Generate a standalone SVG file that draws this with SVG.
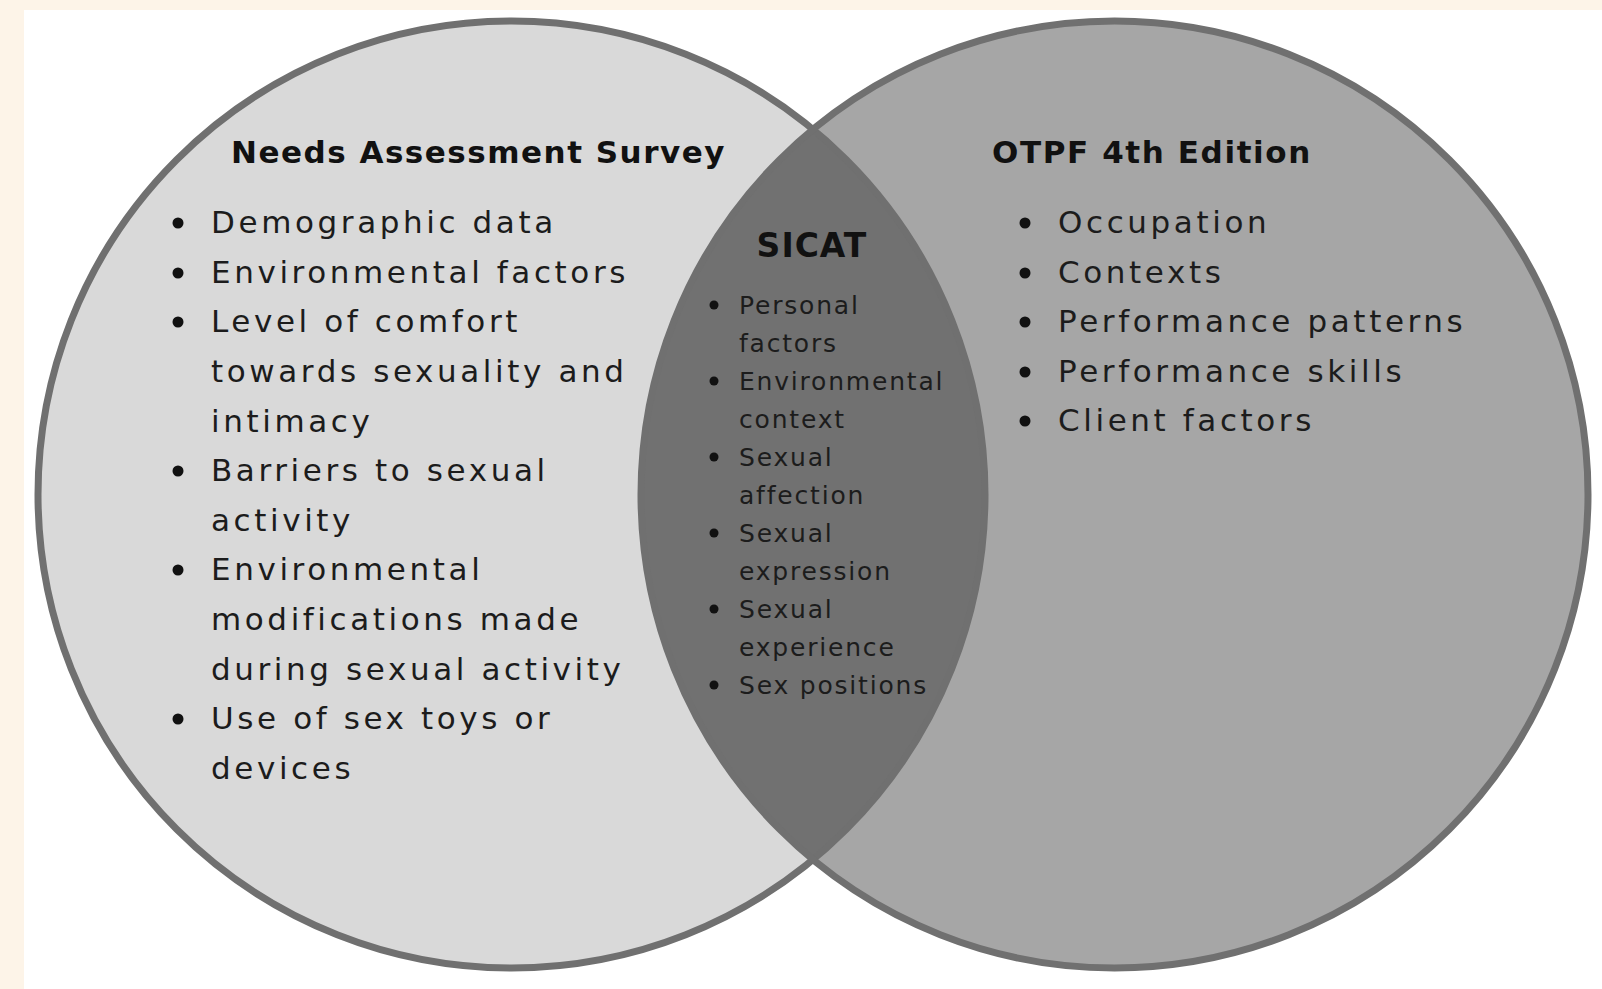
<svg xmlns="http://www.w3.org/2000/svg" width="1602" height="989" viewBox="0 0 1602 989">
<style>
.bg{fill:#fdf4e8}
.panel{fill:#ffffff}
.ring{fill:none;stroke:#707070;stroke-width:7}
.title{font-family:"DejaVu Sans",Verdana,sans-serif;font-weight:bold;fill:#111111}
.big{font-family:"DejaVu Sans",Verdana,sans-serif;font-size:31px;letter-spacing:3.6px;fill:#1c1c1c}
.small{font-family:"DejaVu Sans",Verdana,sans-serif;font-size:25px;letter-spacing:1.8px;fill:#1c1c1c}
.dot{fill:#111111}
</style>
<rect class="bg" x="0" y="0" width="1602" height="989"/>
<rect class="panel" x="24" y="10" width="1578" height="979"/>

<g id="needs-assessment-circle">
  <circle cx="511.5" cy="494.5" r="473.5" fill="#d9d9d9"/>
</g>
<g id="otpf-circle">
  <circle cx="1114.5" cy="494.5" r="473.5" fill="#a6a6a6"/>
</g>
<g id="sicat-lens">
  <path d="M813 129.4 A473.5 473.5 0 0 1 813 859.6 A473.5 473.5 0 0 1 813 129.4 Z" fill="#717171"/>
</g>
<g id="outlines">
  <circle class="ring" cx="511.5" cy="494.5" r="473.5"/>
  <circle class="ring" cx="1114.5" cy="494.5" r="473.5"/>
</g>
<g id="connectors"></g>

<g id="needs-assessment">
  <text class="title" x="231" y="163" font-size="31" letter-spacing="1.5">Needs Assessment Survey</text>
  <circle class="dot" cx="178" cy="223" r="5.5"/>
  <text class="big" x="211" y="233">Demographic data</text>
  <circle class="dot" cx="178" cy="273" r="5.5"/>
  <text class="big" x="211" y="283">Environmental factors</text>
  <circle class="dot" cx="178" cy="322" r="5.5"/>
  <text class="big" x="211" y="332">Level of comfort</text>
  <text class="big" x="211" y="382">towards sexuality and</text>
  <text class="big" x="211" y="432">intimacy</text>
  <circle class="dot" cx="178" cy="471" r="5.5"/>
  <text class="big" x="211" y="481">Barriers to sexual</text>
  <text class="big" x="211" y="531">activity</text>
  <circle class="dot" cx="178" cy="570" r="5.5"/>
  <text class="big" x="211" y="580">Environmental</text>
  <text class="big" x="211" y="630">modifications made</text>
  <text class="big" x="211" y="680">during sexual activity</text>
  <circle class="dot" cx="178" cy="719" r="5.5"/>
  <text class="big" x="211" y="729">Use of sex toys or</text>
  <text class="big" x="211" y="779">devices</text>
</g>

<g id="otpf">
  <text class="title" x="992" y="163" font-size="31" letter-spacing="1.6">OTPF 4th Edition</text>
  <circle class="dot" cx="1025" cy="223" r="5.5"/>
  <text class="big" x="1058" y="233">Occupation</text>
  <circle class="dot" cx="1025" cy="273" r="5.5"/>
  <text class="big" x="1058" y="283">Contexts</text>
  <circle class="dot" cx="1025" cy="322" r="5.5"/>
  <text class="big" x="1058" y="332">Performance patterns</text>
  <circle class="dot" cx="1025" cy="372" r="5.5"/>
  <text class="big" x="1058" y="382">Performance skills</text>
  <circle class="dot" cx="1025" cy="421" r="5.5"/>
  <text class="big" x="1058" y="431">Client factors</text>
</g>

<g id="sicat">
  <text class="title" x="812" y="257" font-size="33" text-anchor="middle" letter-spacing="1">SICAT</text>
  <circle class="dot" cx="714" cy="305" r="4.5"/>
  <text class="small" x="739" y="314">Personal</text>
  <text class="small" x="739" y="352">factors</text>
  <circle class="dot" cx="714" cy="381" r="4.5"/>
  <text class="small" x="739" y="390">Environmental</text>
  <text class="small" x="739" y="428">context</text>
  <circle class="dot" cx="714" cy="457" r="4.5"/>
  <text class="small" x="739" y="466">Sexual</text>
  <text class="small" x="739" y="504">affection</text>
  <circle class="dot" cx="714" cy="533" r="4.5"/>
  <text class="small" x="739" y="542">Sexual</text>
  <text class="small" x="739" y="580">expression</text>
  <circle class="dot" cx="714" cy="609" r="4.5"/>
  <text class="small" x="739" y="618">Sexual</text>
  <text class="small" x="739" y="656">experience</text>
  <circle class="dot" cx="714" cy="685" r="4.5"/>
  <text class="small" x="739" y="694">Sex positions</text>
</g>
</svg>
